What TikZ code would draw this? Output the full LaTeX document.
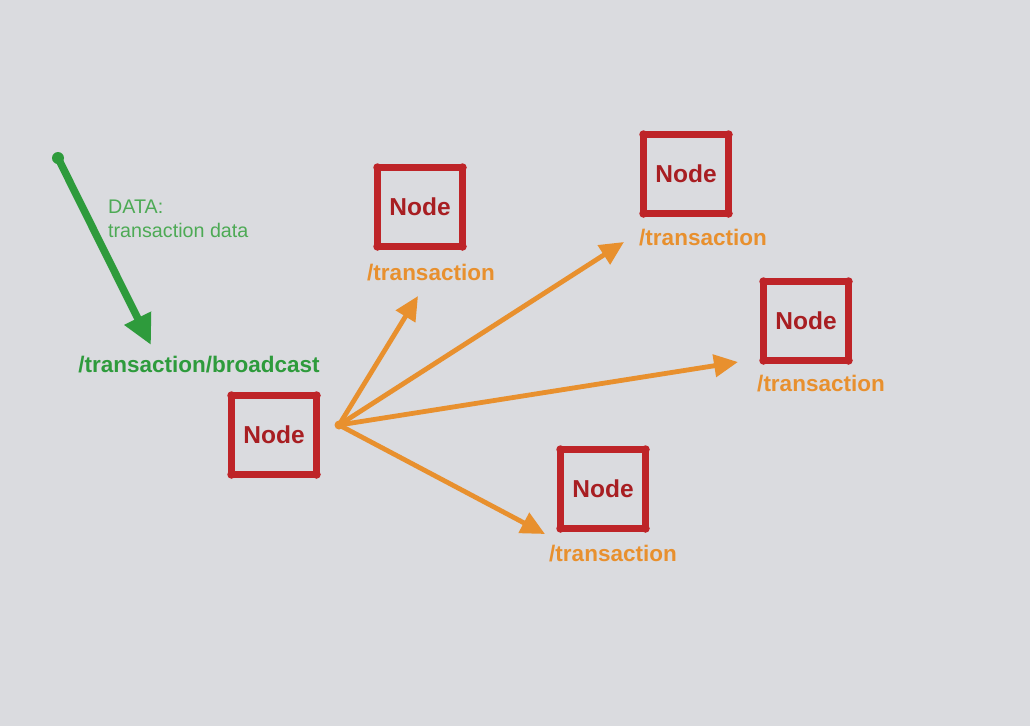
\documentclass[tikz,border=0pt]{standalone}
\usepackage{fontspec}
\setmainfont{Liberation Sans}
\usetikzlibrary{arrows.meta}
\definecolor{bg}{HTML}{DADBDF}
\definecolor{boxred}{HTML}{BE2428}
\definecolor{textred}{HTML}{A81E22}
\definecolor{orng}{HTML}{E8902E}
\definecolor{grn}{HTML}{2E9B3C}
\definecolor{lgrn}{HTML}{4DAA55}
\tikzset{
  netnode/.style={draw=boxred, line width=6.5pt, line join=round, outer sep=0pt, minimum width=85pt, minimum height=79pt, inner sep=0pt, text=textred, font=\bfseries\fontsize{24.5}{28}\selectfont,
    append after command={\pgfextra{\let\mynode\tikzlastnode}
      (\mynode.north west) node[corner]{} (\mynode.north east) node[corner]{}
      (\mynode.south west) node[corner]{} (\mynode.south east) node[corner]{}}},
  corner/.style={circle, fill=boxred, minimum size=8.5pt, inner sep=0pt},
  route/.style={text=orng, font=\bfseries\fontsize{22.5}{26}\selectfont, inner sep=0pt},
  send/.style={draw=orng, line width=4.8pt, line cap=round, -{Triangle[length=24pt,width=22pt]}},
  feed/.style={draw=grn, line width=7.5pt, line cap=round, -{Triangle[length=30pt,width=28pt]}}
}
\begin{document}
\begin{tikzpicture}[x=1pt,y=-1pt]
\fill[bg] (0,0) rectangle (1030,726);
\useasboundingbox (0,0) rectangle (1030,726);
% nodes
\node[netnode] (src) at (274,435) {Node};
\node[netnode] (na) at (420,207) {Node};
\node[netnode] (nb) at (686,174) {Node};
\node[netnode] (nc) at (806,321) {Node};
\node[netnode] (nd) at (603,489) {Node};
% labels
\node[route] (la) at (431,273) {/transaction};
\node[route] (lb) at (703,238) {/transaction};
\node[route] (lc) at (821,384) {/transaction};
\node[route] (ld) at (613,554) {/transaction};
% green input
\coordinate (gs) at (58,158);
\coordinate (gt) at (151,345);
\fill[grn] (gs) circle (6pt);
\draw[feed] (gs) -- (gt);
\node[text=lgrn, font=\fontsize{19.7}{24}\selectfont, align=left, anchor=north west, inner sep=0pt] (data) at (108,200) {DATA:\\transaction data};
\node[text=grn, font=\bfseries\fontsize{22.5}{26}\selectfont, inner sep=0pt] (bc) at (199,365) {/transaction/broadcast};
% broadcast arrows
\coordinate (o) at (339,425);
\coordinate (ta) at (418,296);
\coordinate (tb) at (624,242);
\coordinate (tc) at (738,362);
\coordinate (td) at (545,534);
\fill[orng] (o) circle (4.5pt);
\draw[send] (o) -- (ta);
\draw[send] (o) -- (tb);
\draw[send] (o) -- (tc);
\draw[send] (o) -- (td);
\end{tikzpicture}
\end{document}
